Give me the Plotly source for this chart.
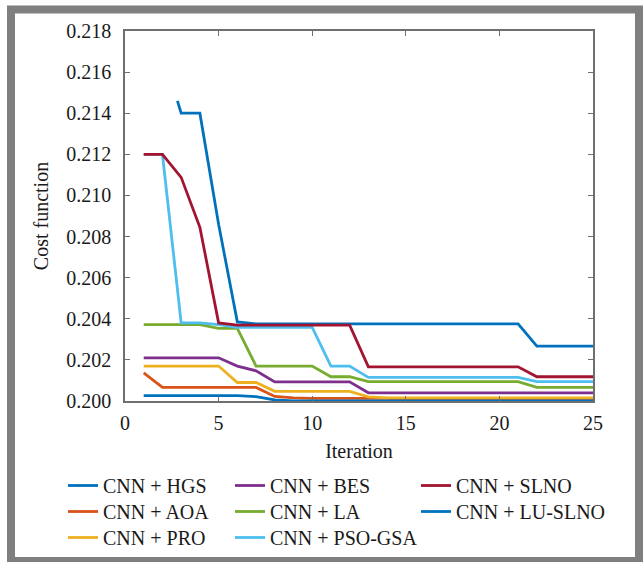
import plotly.graph_objects as go

iters = list(range(1, 26))

hgs_x = [2.8] + list(range(3, 26))
hgs = [0.2146, 0.2140, 0.2140, 0.2086, 0.20385] + [0.20375] * 15 + [0.20267] * 4
aoa = [0.20137] + [0.20066] * 6 + [0.20022, 0.20015] + [0.20013] * 5 + [0.20005] * 11
pro = [0.2017] * 5 + [0.2009] * 2 + [0.20047] * 5 + [0.2002] + [0.20015] * 12
bes = [0.2021] * 5 + [0.2017, 0.20147] + [0.20093] * 5 + [0.2004] * 13
la = [0.20372] * 4 + [0.20353] * 2 + [0.2017] * 4 + [0.20118] * 2 + [0.20094] * 9 + [0.20066] * 4
pso = [0.2120] * 2 + [0.2038] * 2 + [0.20372] + [0.20358] * 5 + [0.2017] * 2 + [0.20115] * 9 + [0.20094] * 4
slno = [0.2120, 0.2120, 0.21088, 0.20845, 0.2038] + [0.20369] * 7 + [0.20166] * 9 + [0.20118] * 4
lu_slno = [0.20026] * 6 + [0.20021, 0.20005] + [0.2000] * 17

y_ticks = [0.200, 0.202, 0.204, 0.206, 0.208, 0.210, 0.212, 0.214, 0.216, 0.218]
x_ticks = [0, 5, 10, 15, 20, 25]

series = [
    ("CNN + HGS", hgs_x, hgs, "#0072BD"),
    ("CNN + AOA", iters, aoa, "#D95319"),
    ("CNN + PRO", iters, pro, "#EDB120"),
    ("CNN + BES", iters, bes, "#7E2F8E"),
    ("CNN + LA", iters, la, "#77AC30"),
    ("CNN + PSO-GSA", iters, pso, "#4DBEEE"),
    ("CNN + SLNO", iters, slno, "#A2142F"),
    ("CNN + LU-SLNO", iters, lu_slno, "#0072BD"),
]

W, H = 643, 562
L, R, T, B = 125, 50, 31, 161
PW, PH = W - L - R, H - T - B

def px(x):
    return (x - L) / PW

def py(y):
    return (H - B - y) / PH

TXT = "#1a1a1a"
FAM = "Liberation Serif"
f_ticks = dict(family=FAM, size=20, color=TXT)
f_leg = dict(family=FAM, size=20, color=TXT)
f_title = dict(family=FAM, size=20, color=TXT)

col_x = [63, 230, 416]
row_y = [466, 492, 518]

fig = go.Figure()
layout_legends = {}
for i, (name, xs, ys, col) in enumerate(series):
    key = "legend" if i == 0 else f"legend{i + 1}"
    fig.add_trace(go.Scatter(x=xs, y=ys, mode="lines", name=name, showlegend=True,
                             line=dict(color=col, width=2.8), legend=key))
    c, r = divmod(i, 3)
    layout_legends[key] = dict(x=px(col_x[c]), y=py(row_y[r]), font=f_leg,
                               bgcolor="rgba(0,0,0,0)", borderwidth=0,
                               xanchor="left", yanchor="top")

fig.update_layout(
    width=W, height=H, showlegend=True,
    margin=dict(l=L, r=R, t=T, b=B, autoexpand=False),
    paper_bgcolor="white", plot_bgcolor="white",
    font=dict(family=FAM, size=20, color=TXT),
    xaxis=dict(range=[0, 25], tickvals=x_ticks, ticks="inside", ticklen=5,
               tickcolor="#6f6f6f", linecolor="#6f6f6f", linewidth=1.5,
               mirror="allticks", showline=True, showgrid=False, zeroline=False,
               ticklabelstandoff=3, tickfont=f_ticks, automargin=False,
               title=dict(text="Iteration", standoff=11, font=f_title)),
    yaxis=dict(range=[0.200, 0.218], tickvals=y_ticks, tickformat=".3f",
               ticks="inside", ticklen=5,
               tickcolor="#6f6f6f", linecolor="#6f6f6f", linewidth=1.5,
               mirror="allticks", showline=True, showgrid=False, zeroline=False,
               ticklabelstandoff=8, tickfont=f_ticks, automargin=False,
               title=dict(text="Cost function", standoff=12, font=f_title)),
    shapes=[dict(type="rect", xref="paper", yref="paper",
                 x0=px(11), x1=px(639), y0=py(561), y1=py(9.5),
                 line=dict(color="#7f7f7f", width=8), fillcolor="rgba(0,0,0,0)",
                 layer="above")],
    **layout_legends,
)

fig.write_html("out.html")
